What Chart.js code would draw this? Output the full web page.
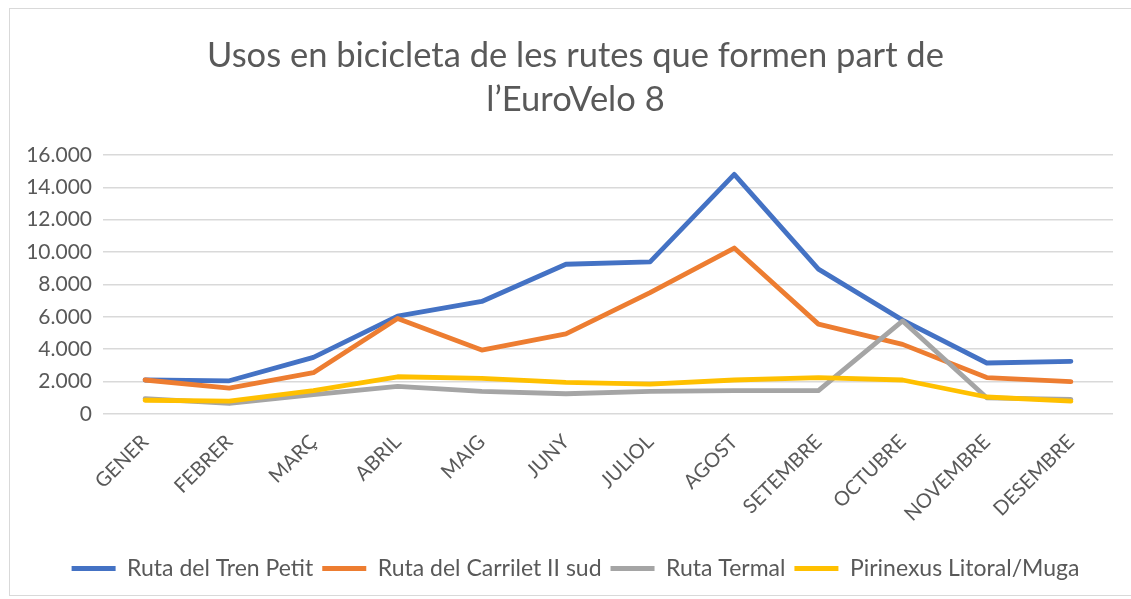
<!DOCTYPE html>
<html>
<head>
<meta charset="utf-8">
<script src="https://cdn.jsdelivr.net/npm/chart.js@4"></script>
<style>
  html, body { margin: 0; padding: 0; background: #fff; overflow: hidden; }
  #wrap { position: absolute; left: 9px; top: 8px; width: 1131px; height: 586px; border: 1px solid #d9d9d9; }
</style>
</head>
<body>
<div id="wrap"><canvas id="usosChart" width="1131" height="586"></canvas></div>
<script>
const months = ["GENER", "FEBRER", "MARÇ", "ABRIL", "MAIG", "JUNY", "JULIOL", "AGOST", "SETEMBRE", "OCTUBRE", "NOVEMBRE", "DESEMBRE"];
const trenPetit = [2100, 2050, 3500, 6050, 6950, 9250, 9400, 14800, 8950, 5800, 3150, 3250];
const carrilet = [2100, 1600, 2550, 5900, 3950, 4950, 7500, 10250, 5550, 4300, 2250, 2000];
const termal = [950, 650, 1200, 1700, 1400, 1250, 1400, 1450, 1450, 5750, 1000, 900];
const pirinexus = [850, 800, 1450, 2300, 2200, 1950, 1850, 2100, 2250, 2100, 1050, 800];
const seriesNames = ["Ruta del Tren Petit", "Ruta del Carrilet II sud", "Ruta Termal", "Pirinexus Litoral/Muga"];
const seriesColors = ["#4472c4", "#ed7d31", "#a5a5a5", "#ffc000"];
const titleLines = ["Usos en bicicleta de les rutes que formen part de", "l\u2019EuroVelo 8"];

const font = "Lato, 'Open Sans', sans-serif";
const textColor = "#595959";

const datasets = [trenPetit, carrilet, termal, pirinexus].map((vals, i) => ({
  label: seriesNames[i],
  data: vals,
  borderColor: seriesColors[i],
  backgroundColor: seriesColors[i],
  borderWidth: 4.8,
  borderCapStyle: "round",
  borderJoinStyle: "round",
  tension: 0,
  pointRadius: 0,
  fill: false,
  order: 3 - i // later series drawn on top, like the original
}));

new Chart(document.getElementById("usosChart"), {
  type: "line",
  data: { labels: months, datasets: datasets },
  options: {
    responsive: false,
    animation: false,
    layout: { padding: { left: 0, right: 0, top: 0, bottom: 5 } },
    plugins: {
      title: {
        display: true,
        text: titleLines,
        color: textColor,
        font: { family: font, size: 34.5, weight: "normal", lineHeight: 1.275 },
        padding: { top: 25, bottom: 33 }
      },
      legend: {
        position: "bottom",
        labels: {
          color: textColor,
          font: { family: font, size: 23 },
          boxWidth: 44,
          boxHeight: 5,
          padding: 9,
          sort: (a, b) => a.datasetIndex - b.datasetIndex,
          generateLabels: chart => Chart.defaults.plugins.legend.labels.generateLabels(chart).map(item => {
            item.lineWidth = 0;
            item.fillStyle = seriesColors[item.datasetIndex];
            return item;
          })
        }
      },
      tooltip: { enabled: false }
    },
    scales: {
      x: {
        offset: true,
        afterFit: scale => { scale.height = 134; },
        grid: { display: false },
        border: { display: false },
        ticks: {
          color: textColor,
          font: { family: font, size: 20 },
          minRotation: 45,
          maxRotation: 45,
          padding: 8
        }
      },
      y: {
        min: 0,
        max: 16000,
        afterFit: scale => { scale.width = 93; },
        grid: { color: "#d9d9d9", lineWidth: 1.5, drawTicks: false },
        border: { display: false },
        ticks: {
          stepSize: 2000,
          color: textColor,
          font: { family: font, size: 21 },
          padding: 11,
          callback: v => String(v).replace(/\B(?=(\d{3})+(?!\d))/g, ".")
        }
      },
      // empty right-hand box so the plot stops short of the edge while title and legend stay centred on the frame
      yRight: {
        position: "right",
        min: 0,
        max: 16000,
        afterFit: scale => { scale.width = 28; },
        grid: { display: false },
        border: { display: false },
        ticks: { display: false }
      }
    }
  }
});
</script>
</body>
</html>
